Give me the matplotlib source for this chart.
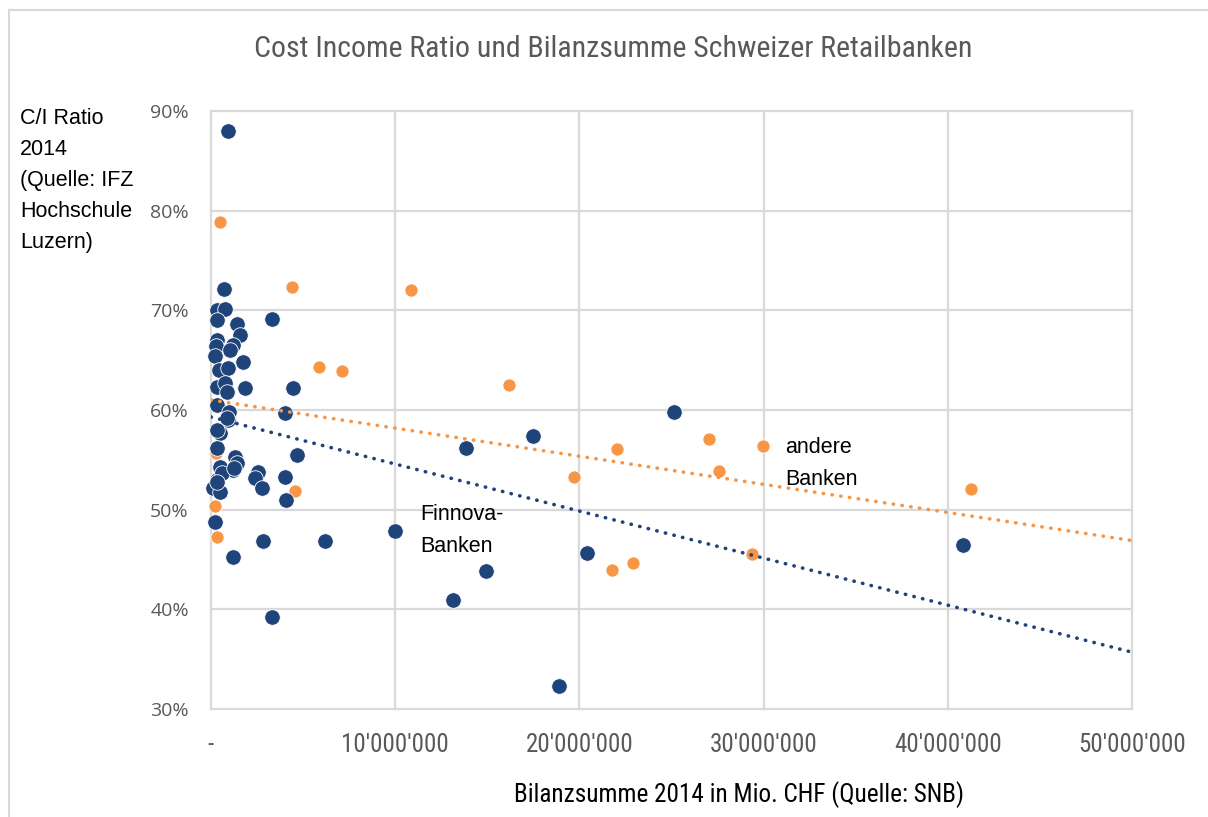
import matplotlib
matplotlib.use("Agg")
import matplotlib.pyplot as plt
from matplotlib.lines import Line2D
from matplotlib.ticker import FixedLocator
from matplotlib import font_manager

# ---------------- data (x in Mio. CHF, y in %) ----------------
finnova_x = [0.92, 0.70, 0.35, 0.75, 0.35, 3.30, 1.40, 1.60, 0.30, 0.25, 1.20, 1.03,
             0.20, 1.74, 0.45, 0.90, 0.35, 0.75, 0.85, 1.85, 4.45, 0.33, 1.00, 0.90,
             0.50, 0.35, 1.30, 1.40, 1.20, 0.50, 0.35, 0.10, 0.50, 2.55, 2.40, 2.77,
             4.00, 4.07, 0.20, 2.80, 1.20, 4.67, 4.00, 3.30, 6.19, 9.99, 13.83, 17.48,
             14.95, 13.16, 18.90, 20.40, 25.15, 40.83, 0.85, 0.30, 0.60, 0.30, 1.25]
finnova_y = [88.0, 72.1, 70.0, 70.1, 69.0, 69.1, 68.6, 67.5, 67.0, 66.4, 66.5, 66.0,
             65.4, 64.8, 64.0, 64.2, 62.3, 62.7, 61.8, 62.2, 62.2, 60.5, 59.8, 59.0,
             57.7, 56.2, 55.3, 54.7, 54.0, 54.3, 53.0, 52.2, 51.8, 53.8, 53.2, 52.2,
             53.3, 51.0, 48.8, 46.9, 45.3, 55.5, 59.7, 39.2, 46.9, 47.9, 56.2, 57.4,
             43.8, 40.9, 32.3, 45.7, 59.8, 46.5, 59.2, 58.0, 53.7, 52.8, 54.2]

andere_x = [0.50, 4.38, 0.90, 0.25, 4.56, 0.20, 0.30, 10.86, 5.88, 7.10, 16.20,
            19.70, 22.06, 21.75, 22.90, 27.05, 27.60, 29.95, 29.35, 41.26]
andere_y = [78.9, 72.3, 65.9, 55.7, 51.9, 50.4, 47.3, 72.0, 64.3, 63.9, 62.5,
            53.3, 56.1, 43.9, 44.6, 57.1, 53.9, 56.4, 45.6, 52.1]

trend_x = [0.0, 50.0]
trend_finnova = [59.3, 35.7]
trend_andere = [61.0, 46.9]

x_ticks = [0, 10, 20, 30, 40, 50]
x_ticklabels = ["-", "10'000'000", "20'000'000", "30'000'000", "40'000'000", "50'000'000"]
y_ticks = [30, 40, 50, 60, 70, 80, 90]
y_ticklabels = ["30%", "40%", "50%", "60%", "70%", "80%", "90%"]

title = "Cost Income Ratio und Bilanzsumme Schweizer Retailbanken"
ylabel = "C/I Ratio\n2014\n(Quelle: IFZ\nHochschule\nLuzern)"
xlabel = "Bilanzsumme 2014 in Mio. CHF (Quelle: SNB)"

SCALE = 1e6  # axis shows the numbers in full

# ---------------- styles ----------------
BLUE = "#1F4479"
ORANGE = "#F79646"
GRID = "#D9D9D9"
GRAYTXT = "#595959"

avail = {f.name for f in font_manager.fontManager.ttflist}
NARROW = ("Liberation Sans Narrow" if "Liberation Sans Narrow" in avail
          else "Roboto Condensed" if "Roboto Condensed" in avail else "Liberation Sans")
REG = "Liberation Sans"

W, H = 1208, 817
fig = plt.figure(figsize=(W / 100, H / 100), dpi=100)
fig.patch.set_facecolor("white")

# outer chart border (cropped on right/bottom)
fig.add_artist(Line2D([9 / W, 9 / W], [0, 1 - 10 / H], color=GRID, lw=1.5, transform=fig.transFigure))
fig.add_artist(Line2D([9 / W, 1], [1 - 10 / H, 1 - 10 / H], color=GRID, lw=1.5, transform=fig.transFigure))

ax = fig.add_axes([211 / W, 1 - 709 / H, (1132 - 211) / W, (709 - 111) / H])
ax.set_xlim(0, 50 * SCALE)
ax.set_ylim(30, 90)
for s in ax.spines.values():
    s.set_visible(False)

for t in x_ticks:
    ax.axvline(t * SCALE, color=GRID, lw=1.6, zorder=0, clip_on=False)
for t in y_ticks:
    ax.axhline(t, color=GRID, lw=1.6, zorder=0, clip_on=False)

ax.xaxis.set_major_locator(FixedLocator([t * SCALE for t in x_ticks]))
ax.set_xticklabels(x_ticklabels, fontfamily=NARROW, fontsize=18, color=GRAYTXT)
ax.yaxis.set_major_locator(FixedLocator(y_ticks))
ax.set_yticklabels(y_ticklabels, fontfamily="Open Sans", fontsize=14, color=GRAYTXT)
ax.tick_params(axis="both", length=0)
ax.tick_params(axis="x", pad=17.5)
ax.tick_params(axis="y", pad=16)

ax.scatter([v * SCALE for v in andere_x], andere_y, s=90, color=ORANGE,
           edgecolors="white", linewidths=0.6, zorder=3, clip_on=False)
ax.scatter([v * SCALE for v in finnova_x], finnova_y, s=125, color=BLUE,
           edgecolors="white", linewidths=0.6, zorder=4, clip_on=False)

ax.plot([v * SCALE for v in trend_x], trend_andere, color=ORANGE, lw=2.6,
        linestyle=(0, (0.1, 2.35)), dash_capstyle="round", zorder=5)
ax.plot([v * SCALE for v in trend_x], trend_finnova, color=BLUE, lw=2.6,
        linestyle=(0, (0.1, 2.35)), dash_capstyle="round", zorder=5)

fig.text(785 / W, 1 - 437 / H, "andere\nBanken",
         fontfamily=REG, fontsize=15.5, color="black", va="top", ha="left", linespacing=1.68)
fig.text(420 / W, 1 - 504 / H, "Finnova-\nBanken",
         fontfamily=REG, fontsize=15.5, color="black", va="top", ha="left", linespacing=1.7)

fig.text(613 / W, 1 - 49 / H, title, fontfamily=NARROW, fontsize=21.5, color=GRAYTXT,
         ha="center", va="center")
fig.text(20 / W, 1 - 108 / H, ylabel, fontfamily=REG, fontsize=15.5, color="black",
         ha="left", va="top", linespacing=1.62)
fig.text(739 / W, 1 - 795 / H, xlabel, fontfamily=NARROW, fontsize=18.2, color="black",
         ha="center", va="center")

fig.savefig("out.png", dpi=100, facecolor="white")
